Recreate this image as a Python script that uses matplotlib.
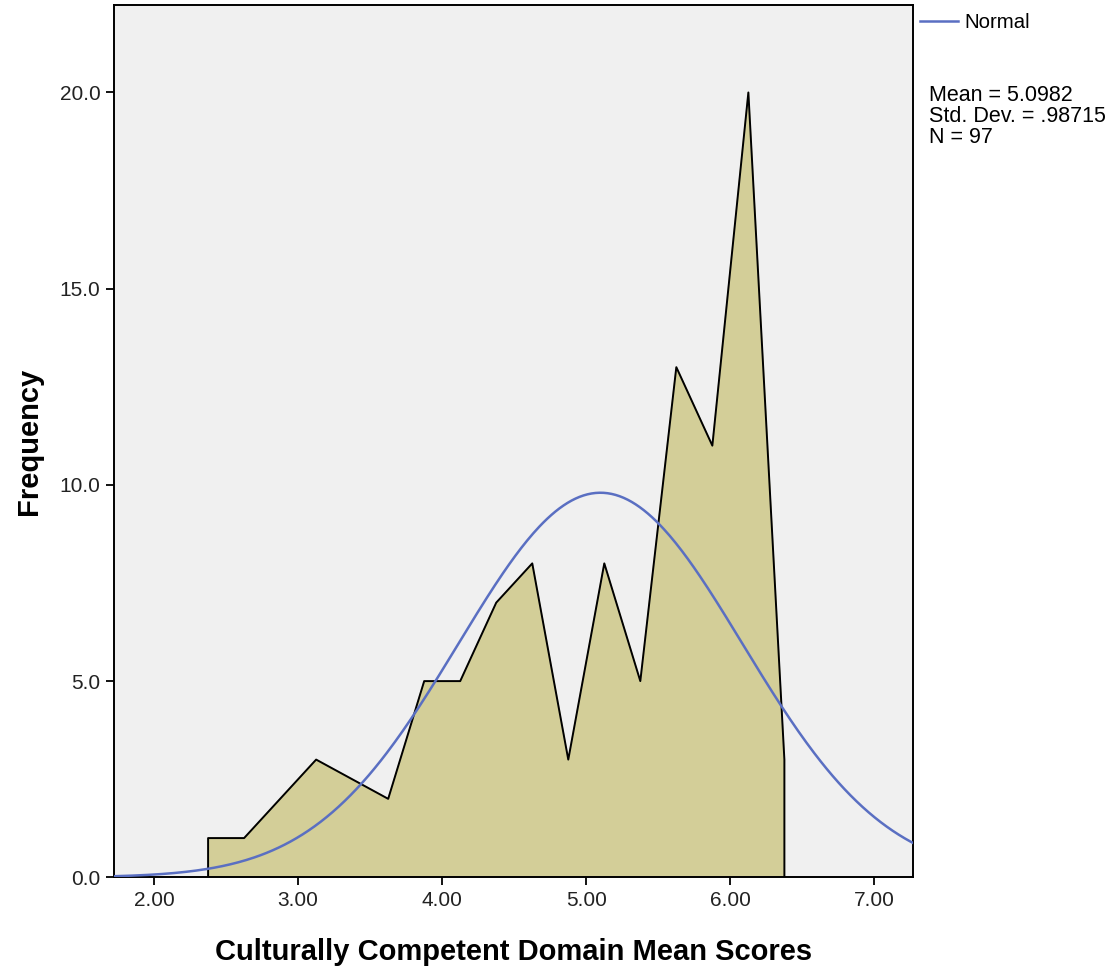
import matplotlib.pyplot as plt
import numpy as np

plt.rcParams['font.family'] = ['Liberation Sans', 'DejaVu Sans']

# midpoints of score bins and their counts
scores = [2.375, 2.625, 2.875, 3.125, 3.625, 3.875, 4.125, 4.375, 4.625,
          4.875, 5.125, 5.375, 5.625, 5.875, 6.125, 6.375]
counts = [1, 1, 2, 3, 2, 5, 5, 7, 8, 3, 8, 5, 13, 11, 20, 3]

mean = 5.0982
sd = 0.98715
n = 97
bin_w = 0.25

fig = plt.figure(figsize=(11.13, 9.72), dpi=100)
ax = fig.add_axes([0.1027, 0.0974, 0.7179, 0.8975])
ax.set_facecolor('#f0f0f0')

xs = [scores[0]] + scores + [scores[-1]]
ys = [0] + counts + [0]
ax.fill(xs, ys, color='#d3ce98', zorder=2)
ax.plot(xs, ys, color='black', lw=1.4, zorder=3)

# fitted normal curve
xc = np.linspace(1.72, 7.28, 400)
yc = n * bin_w * np.exp(-0.5 * ((xc - mean) / sd) ** 2) / (sd * np.sqrt(2 * np.pi))
ax.plot(xc, yc, color='#5a6fc2', lw=1.8, zorder=4, label='Normal')

ax.set_xlim(1.724, 7.27)
ax.set_ylim(0, 22.23)
ax.set_xticks([2, 3, 4, 5, 6, 7])
ax.set_xticklabels(['2.00', '3.00', '4.00', '5.00', '6.00', '7.00'])
ax.set_yticks([0, 5, 10, 15, 20])
ax.set_yticklabels(['0.0', '5.0', '10.0', '15.0', '20.0'])
ax.tick_params(direction='out', length=6, width=1.3, labelsize=15, pad=4, labelcolor='#222222')
for s in ax.spines.values():
    s.set_linewidth(1.4)

ax.set_xlabel('Culturally Competent Domain Mean Scores', fontsize=21, fontweight='bold', labelpad=20)
ax.set_ylabel('Frequency', fontsize=21, fontweight='bold', labelpad=12)

ax.legend(loc='upper left', bbox_to_anchor=(0.99, 1.007), frameon=False, fontsize=14.7,
          handlelength=1.9, handletextpad=0.3, borderaxespad=0.3)

fig.text(0.835, 0.913, 'Mean = 5.0982\nStd. Dev. = .98715\nN = 97', fontsize=15.5,
         va='top', ha='left', linespacing=1.0)

fig.savefig('out.png', dpi=100)
